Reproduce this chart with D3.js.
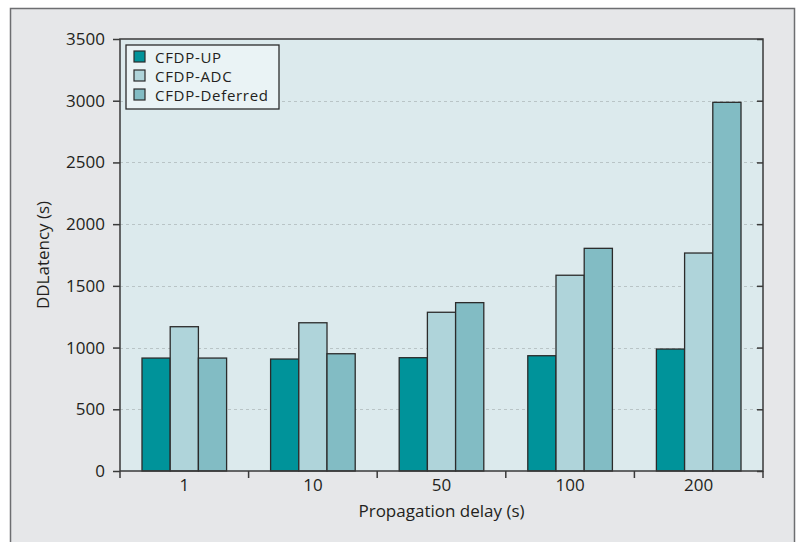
<!DOCTYPE html>
<html>
<head>
<meta charset="utf-8">
<script src="https://cdn.jsdelivr.net/npm/d3@7"></script>
<style>
  body { margin: 0; background: #fff; }
  svg { display: block; }
  text { font-family: "Open Sans", "DejaVu Sans", sans-serif; fill: #231f20; }
</style>
</head>
<body>
<svg width="803" height="542"></svg>
<script>
// chart data
var delays = ["1", "10", "50", "100", "200"];
var seriesNames = ["CFDP-UP", "CFDP-ADC", "CFDP-Deferred"];
var upValues = [915, 907, 918, 934, 988];
var adcValues = [1169, 1201, 1286, 1586, 1766];
var deferredValues = [915, 950, 1364, 1804, 2987];
var yTicks = [0, 500, 1000, 1500, 2000, 2500, 3000, 3500];

var colors = ["#00939a", "#afd4da", "#82bcc4"];

var svg = d3.select("svg");

// outer panel
svg.append("rect")
  .attr("x", 10.5).attr("y", 8.5)
  .attr("width", 784).attr("height", 545)
  .attr("fill", "#e6e7e9")
  .attr("stroke", "#6d6e71")
  .attr("stroke-width", 1.5);

var margin = { top: 39, left: 120, right: 763, bottom: 471 };

var x0 = d3.scaleBand().domain(delays).range([margin.left, margin.right]);
var x1 = d3.scaleBand().domain(seriesNames).range([0, x0.bandwidth()]).paddingOuter(0.78);
var y = d3.scaleLinear().domain([0, 3500]).range([margin.bottom, margin.top]);

// plot background
svg.append("rect")
  .attr("x", margin.left).attr("y", margin.top)
  .attr("width", margin.right - margin.left).attr("height", margin.bottom - margin.top)
  .attr("fill", "#dceaed");

// dashed gridlines
svg.append("g")
  .selectAll("line")
  .data(yTicks.filter(function(d) { return d > 0 && d < 3500; }))
  .enter().append("line")
  .attr("x1", margin.left).attr("x2", margin.right)
  .attr("y1", function(d) { return Math.round(y(d)) + 0.5; })
  .attr("y2", function(d) { return Math.round(y(d)) + 0.5; })
  .attr("stroke", "#b9c4c6")
  .attr("stroke-dasharray", "3,3");

// bars
var rows = delays.map(function(d, i) {
  return { delay: d, values: [upValues[i], adcValues[i], deferredValues[i]] };
});

var groups = svg.append("g").selectAll("g")
  .data(rows)
  .enter().append("g")
  .attr("transform", function(d) { return "translate(" + x0(d.delay) + ",0)"; });

groups.selectAll("rect")
  .data(function(d) {
    return d.values.map(function(v, j) { return { name: seriesNames[j], value: v, idx: j }; });
  })
  .enter().append("rect")
  .attr("x", function(d) { return x1(d.name); })
  .attr("y", function(d) { return y(d.value); })
  .attr("width", x1.bandwidth())
  .attr("height", function(d) { return y(0) - y(d.value); })
  .attr("fill", function(d) { return colors[d.idx]; })
  .attr("stroke", "#2b2b2b")
  .attr("stroke-width", 1.3);

// plot frame
svg.append("rect")
  .attr("x", margin.left).attr("y", margin.top)
  .attr("width", margin.right - margin.left).attr("height", margin.bottom - margin.top)
  .attr("fill", "none")
  .attr("stroke", "#3a3a3a")
  .attr("stroke-width", 1.5);

// left axis
var yAxis = d3.axisLeft(y).tickValues(yTicks).tickFormat(d3.format("d")).tickSize(7).tickPadding(8);
var gy = svg.append("g")
  .attr("transform", "translate(" + margin.left + ",0)")
  .call(yAxis);
gy.select(".domain").remove();
gy.selectAll("line").attr("stroke", "#3a3a3a").attr("stroke-width", 1.5);
gy.selectAll("text").attr("font-size", 17).style("font-family", '"Open Sans", "DejaVu Sans", sans-serif').attr("fill", "#231f20");

// right side inner ticks
var gr = svg.append("g")
  .attr("transform", "translate(" + margin.right + ",0)")
  .call(d3.axisLeft(y).tickValues(yTicks).tickSize(6).tickFormat(""));
gr.select(".domain").remove();
gr.selectAll("line").attr("stroke", "#3a3a3a").attr("stroke-width", 1.5);

// bottom axis: ticks at group boundaries, labels at group centres
var bounds = delays.map(function(d) { return x0(d); }).concat([margin.right]);
svg.append("g").selectAll("line")
  .data(bounds)
  .enter().append("line")
  .attr("x1", function(d) { return d; }).attr("x2", function(d) { return d; })
  .attr("y1", margin.bottom).attr("y2", margin.bottom + 7)
  .attr("stroke", "#3a3a3a")
  .attr("stroke-width", 1.5);

svg.append("g").selectAll("text")
  .data(delays)
  .enter().append("text")
  .attr("x", function(d) { return x0(d) + x0.bandwidth() / 2; })
  .attr("y", 491)
  .attr("text-anchor", "middle")
  .attr("font-size", 17)
  .text(function(d) { return d; });

// axis titles
svg.append("text")
  .attr("x", (margin.left + margin.right) / 2)
  .attr("y", 517)
  .attr("text-anchor", "middle")
  .attr("font-size", 17)
  .text("Propagation delay (s)");

svg.append("text")
  .attr("transform", "translate(49," + ((margin.top + margin.bottom) / 2) + ") rotate(-90)")
  .attr("text-anchor", "middle")
  .attr("font-size", 17)
  .text("DDLatency (s)");

// legend
var legend = svg.append("g").attr("transform", "translate(126,45)");
legend.append("rect")
  .attr("width", 153).attr("height", 64)
  .attr("fill", "#eaf3f5")
  .attr("stroke", "#2b2b2b")
  .attr("stroke-width", 1.3);

var items = legend.selectAll("g.item")
  .data(seriesNames)
  .enter().append("g")
  .attr("class", "item")
  .attr("transform", function(d, i) { return "translate(8," + (6 + i * 19) + ")"; });

items.append("rect")
  .attr("width", 11).attr("height", 11)
  .attr("fill", function(d, i) { return colors[i]; })
  .attr("stroke", "#2b2b2b")
  .attr("stroke-width", 1.2);

items.append("text")
  .attr("x", 21)
  .attr("y", 11.5)
  .attr("font-size", 15)
  .attr("letter-spacing", 0.7)
  .text(function(d) { return d; });
</script>
</body>
</html>
